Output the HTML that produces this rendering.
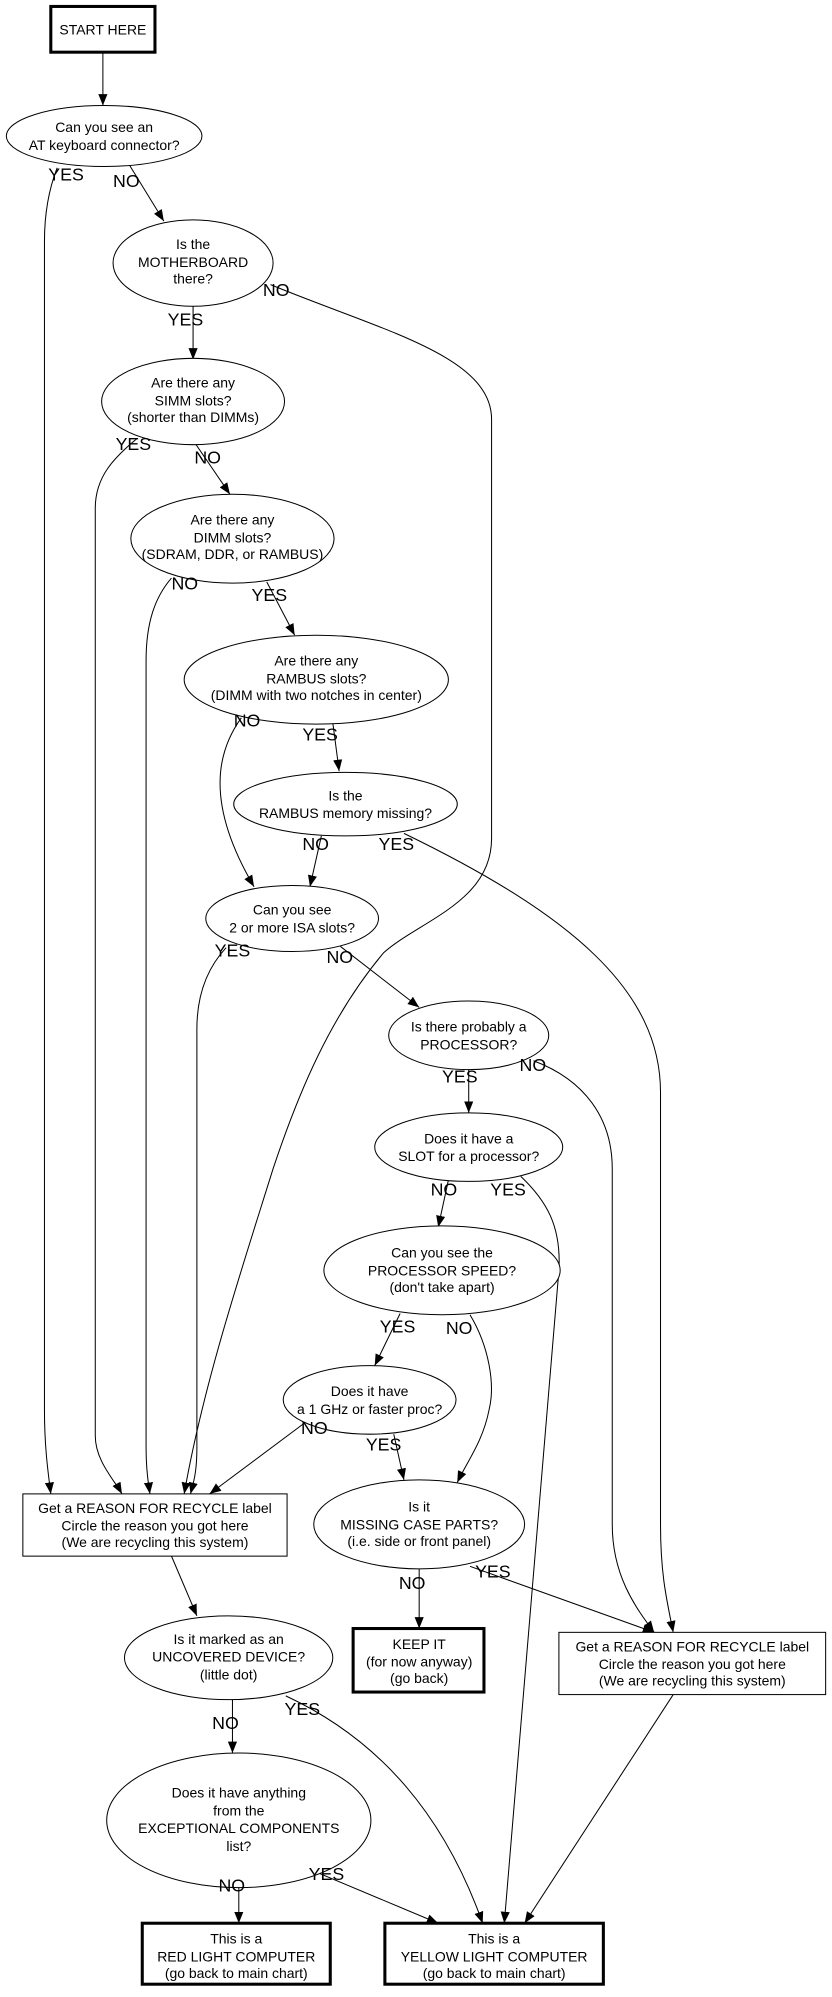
<!DOCTYPE html>
<html><head><meta charset="utf-8"><style>
html,body{margin:0;padding:0;background:#fff;}
svg{display:block;}
text{font-family:"Liberation Sans",sans-serif;fill:#000;}
.n{font-size:11px;text-anchor:middle;}
.l{font-size:14px;}
.e{fill:none;stroke:#000;stroke-width:0.8;marker-end:url(#a);}
.s{fill:#fff;stroke:#000;stroke-width:0.8;}
.b{fill:#fff;stroke:#000;stroke-width:2.4;}
</style></head><body>
<svg width="832" height="1997" viewBox="0 0 655 1572" xmlns="http://www.w3.org/2000/svg">
<defs><marker id="a" viewBox="0 0 10 10" refX="10" refY="5" markerWidth="9" markerHeight="9" markerUnits="userSpaceOnUse" orient="auto"><path d="M0,1 L10,5 L0,9 z" fill="#000"/></marker></defs>

<!-- edges -->
<path class="e" d="M81,41 L81,83"/>
<path class="e" d="M45,132 C38,150 35,170 35,190 L35,1110 C35,1140 38,1160 40,1176"/>
<path class="e" d="M102,130 L129,174"/>
<path class="e" d="M213,224 C300,260 387,280 387,330 L387,660 C387,710 330,725 302,750 C260,800 235,860 215,920 C190,1000 160,1090 145,1176"/>
<path class="e" d="M152,241 L152,283"/>
<path class="e" d="M108,345 C90,360 75,375 75,400 L75,1130 C75,1150 90,1165 96,1176"/>
<path class="e" d="M153,348 L181,389"/>
<path class="e" d="M135,455 C122,470 115,490 115,520 L115,1140 C115,1160 117,1168 118,1176"/>
<path class="e" d="M210,458 L232,500"/>
<path class="e" d="M190,565 C172,590 160,630 200,698"/>
<path class="e" d="M262,569 L267,607"/>
<path class="e" d="M253,658 L244,698"/>
<path class="e" d="M318,656 C450,720 520,780 520,860 L520,1200 C520,1240 525,1260 530,1285"/>
<path class="e" d="M178,746 C165,760 155,780 155,810 L155,1140 C155,1160 152,1168 150,1176"/>
<path class="e" d="M268,745 L330,793"/>
<path class="e" d="M369,842 L369,876"/>
<path class="e" d="M420,835 C460,850 482,880 482,920 L482,1200 C482,1240 500,1265 515,1285"/>
<path class="e" d="M353,929 L345,966"/>
<path class="e" d="M410,926 C430,945 442,965 440,1000 L397,1514"/>
<path class="e" d="M315,1034 L295,1075"/>
<path class="e" d="M370,1035 C385,1060 390,1090 385,1110 C380,1135 368,1150 360,1167"/>
<path class="e" d="M240,1120 L165,1176"/>
<path class="e" d="M310,1129 L318,1165"/>
<path class="e" d="M135,1225 L155,1272"/>
<path class="e" d="M330,1235 L330,1282"/>
<path class="e" d="M370,1233 L515,1285"/>
<path class="e" d="M183,1338 L183,1380"/>
<path class="e" d="M225,1335 C300,1370 350,1430 380,1514"/>
<path class="e" d="M188,1486 L188,1514"/>
<path class="e" d="M240,1470 L345,1514"/>
<path class="e" d="M530,1334 L413,1514"/>

<!-- nodes -->
<rect class="b" x="40" y="5" width="82" height="36"/>
<text class="n" x="81" y="27">START HERE</text>

<ellipse class="s" cx="82" cy="107" rx="77" ry="24"/>
<text class="n" x="82" y="104">Can you see an</text>
<text class="n" x="82" y="118">AT keyboard connector?</text>

<ellipse class="s" cx="152" cy="207" rx="63" ry="34"/>
<text class="n" x="152" y="196">Is the</text>
<text class="n" x="152" y="210">MOTHERBOARD</text>
<text class="n" x="152" y="223">there?</text>

<ellipse class="s" cx="152" cy="316" rx="72" ry="34"/>
<text class="n" x="152" y="305">Are there any</text>
<text class="n" x="152" y="319">SIMM slots?</text>
<text class="n" x="152" y="332">(shorter than DIMMs)</text>

<ellipse class="s" cx="183" cy="424" rx="80" ry="35"/>
<text class="n" x="183" y="413">Are there any</text>
<text class="n" x="183" y="427">DIMM slots?</text>
<text class="n" x="183" y="440">(SDRAM, DDR, or RAMBUS)</text>

<ellipse class="s" cx="249" cy="535" rx="104" ry="35"/>
<text class="n" x="249" y="524">Are there any</text>
<text class="n" x="249" y="538">RAMBUS slots?</text>
<text class="n" x="249" y="551">(DIMM with two notches in center)</text>

<ellipse class="s" cx="272" cy="633" rx="88" ry="25"/>
<text class="n" x="272" y="630">Is the</text>
<text class="n" x="272" y="644">RAMBUS memory missing?</text>

<ellipse class="s" cx="230" cy="723" rx="68" ry="26"/>
<text class="n" x="230" y="720">Can you see</text>
<text class="n" x="230" y="734">2 or more ISA slots?</text>

<ellipse class="s" cx="369" cy="815" rx="63" ry="27"/>
<text class="n" x="369" y="812">Is there probably a</text>
<text class="n" x="369" y="826">PROCESSOR?</text>

<ellipse class="s" cx="369" cy="903" rx="74" ry="27"/>
<text class="n" x="369" y="900">Does it have a</text>
<text class="n" x="369" y="914">SLOT for a processor?</text>

<ellipse class="s" cx="348" cy="1000" rx="93" ry="35"/>
<text class="n" x="348" y="990">Can you see the</text>
<text class="n" x="348" y="1004">PROCESSOR SPEED?</text>
<text class="n" x="348" y="1017">(don't take apart)</text>

<ellipse class="s" cx="291" cy="1102" rx="68" ry="27"/>
<text class="n" x="291" y="1099">Does it have</text>
<text class="n" x="291" y="1113">a 1 GHz or faster proc?</text>

<rect class="s" x="18" y="1176" width="208" height="49"/>
<text class="n" x="122" y="1191">Get a REASON FOR RECYCLE label</text>
<text class="n" x="122" y="1205">Circle the reason you got here</text>
<text class="n" x="122" y="1218">(We are recycling this system)</text>

<ellipse class="s" cx="330" cy="1200" rx="83" ry="35"/>
<text class="n" x="330" y="1190">Is it</text>
<text class="n" x="330" y="1204">MISSING CASE PARTS?</text>
<text class="n" x="330" y="1217">(i.e. side or front panel)</text>

<rect class="b" x="278" y="1282" width="103" height="50"/>
<text class="n" x="330" y="1298">KEEP IT</text>
<text class="n" x="330" y="1312">(for now anyway)</text>
<text class="n" x="330" y="1325">(go back)</text>

<rect class="s" x="440" y="1285" width="210" height="49"/>
<text class="n" x="545" y="1300">Get a REASON FOR RECYCLE label</text>
<text class="n" x="545" y="1314">Circle the reason you got here</text>
<text class="n" x="545" y="1327">(We are recycling this system)</text>

<ellipse class="s" cx="180" cy="1305" rx="82" ry="33"/>
<text class="n" x="180" y="1294">Is it marked as an</text>
<text class="n" x="180" y="1308">UNCOVERED DEVICE?</text>
<text class="n" x="180" y="1322">(little dot)</text>

<ellipse class="s" cx="188" cy="1433" rx="104" ry="53"/>
<text class="n" x="188" y="1415">Does it have anything</text>
<text class="n" x="188" y="1429">from the</text>
<text class="n" x="188" y="1443">EXCEPTIONAL COMPONENTS</text>
<text class="n" x="188" y="1457">list?</text>

<rect class="b" x="112" y="1514" width="148" height="48"/>
<text class="n" x="186" y="1530">This is a</text>
<text class="n" x="186" y="1544">RED LIGHT COMPUTER</text>
<text class="n" x="186" y="1557">(go back to main chart)</text>

<rect class="b" x="303" y="1514" width="172" height="48"/>
<text class="n" x="389" y="1530">This is a</text>
<text class="n" x="389" y="1544">YELLOW LIGHT COMPUTER</text>
<text class="n" x="389" y="1557">(go back to main chart)</text>

<!-- labels -->
<text class="l" x="38" y="142">YES</text>
<text class="l" x="89" y="147">NO</text>
<text class="l" x="207" y="233">NO</text>
<text class="l" x="132" y="256">YES</text>
<text class="l" x="91" y="354">YES</text>
<text class="l" x="153" y="365">NO</text>
<text class="l" x="135" y="464">NO</text>
<text class="l" x="198" y="473">YES</text>
<text class="l" x="184" y="572">NO</text>
<text class="l" x="238" y="583">YES</text>
<text class="l" x="238" y="669">NO</text>
<text class="l" x="298" y="669">YES</text>
<text class="l" x="169" y="753">YES</text>
<text class="l" x="257" y="758">NO</text>
<text class="l" x="348" y="852">YES</text>
<text class="l" x="409" y="843">NO</text>
<text class="l" x="339" y="941">NO</text>
<text class="l" x="386" y="941">YES</text>
<text class="l" x="299" y="1049">YES</text>
<text class="l" x="351" y="1050">NO</text>
<text class="l" x="237" y="1129">NO</text>
<text class="l" x="288" y="1142">YES</text>
<text class="l" x="314" y="1251">NO</text>
<text class="l" x="374" y="1242">YES</text>
<text class="l" x="167" y="1361">NO</text>
<text class="l" x="224" y="1350">YES</text>
<text class="l" x="172" y="1489">NO</text>
<text class="l" x="243" y="1480">YES</text>
</svg>
</body></html>
